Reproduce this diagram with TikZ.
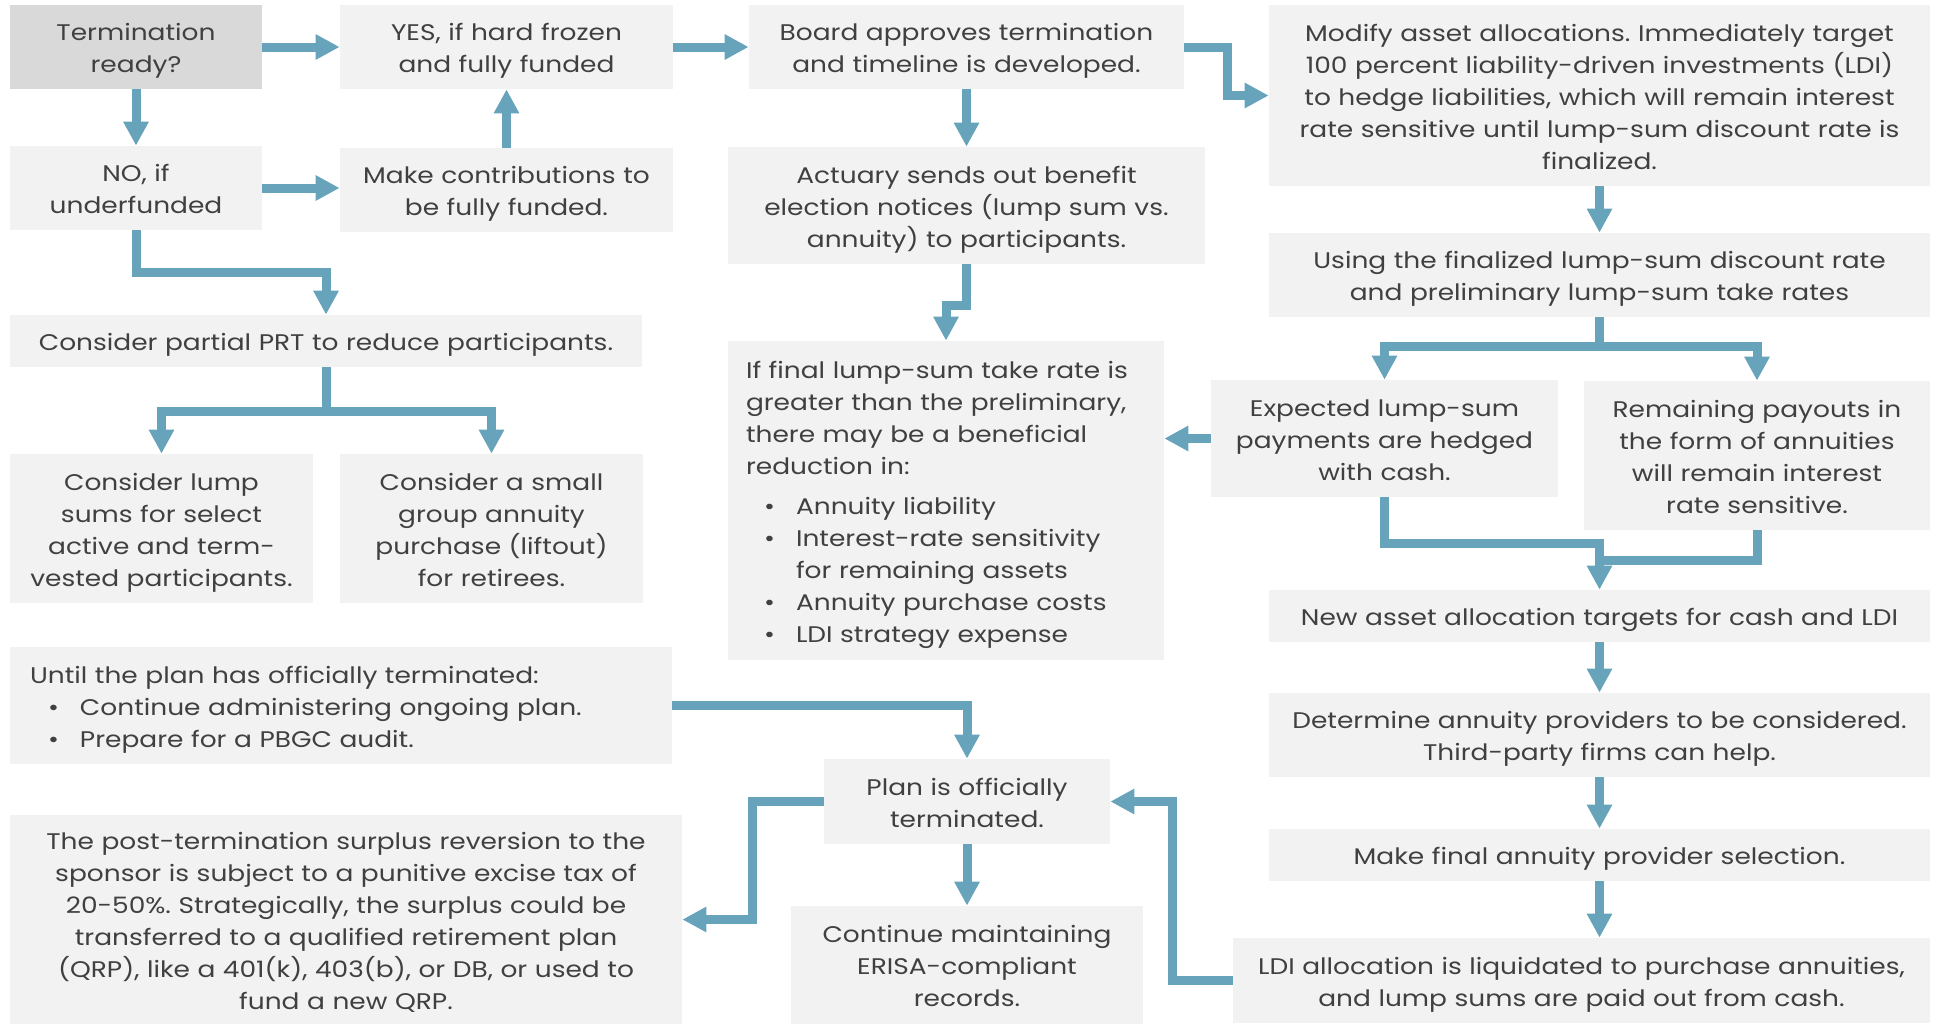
\documentclass[tikz,border=0pt]{standalone}
\usepackage{fontspec}
\setmainfont{Poppins}[FakeStretch=1.17]
\usetikzlibrary{arrows.meta}
\frenchspacing

\definecolor{boxgray}{HTML}{F2F2F2}
\definecolor{headgray}{HTML}{D9D9D9}
\definecolor{txtgray}{HTML}{404040}
\definecolor{flowblue}{HTML}{67A3BB}

\newcommand{\bul}{\hspace*{9pt}\makebox[16pt][l]{\textbullet}}
\newcommand{\bulcont}{\hspace*{25pt}}

\begin{document}
\begin{tikzpicture}[x=0.5pt, y=-0.5pt,
    box/.style={fill=boxgray, text=txtgray, inner sep=0pt, align=center,
      font=\fontsize{11.3}{16}\selectfont,
      execute at begin node={\rule{0pt}{13.6pt}},
      execute at end node={\rule[-4pt]{0pt}{4pt}}},
    sz/.style 2 args={minimum width=#1, text width=#1, minimum height=#2},
    lbox/.style={box, align=left},
    flow/.style={draw=flowblue, line width=4.5pt, -{Triangle[width=12pt,length=12pt]}}]
        \useasboundingbox (0,0) rectangle (1937,1024);

        % left part
        \node[box, fill=headgray, sz={126pt}{42pt}] (Term) at (136,47) {Termination\\ready?};
        \node[box, sz={166.5pt}{42pt}] (Yes) at (506.5,47) {YES, if hard frozen\\and fully funded};
        \node[box, sz={126pt}{42pt}] (No) at (136,188) {NO, if\\underfunded};
        \node[box, sz={166.5pt}{42pt}] (Contrib) at (506.5,190) {Make contributions to\\be fully funded.};
        \node[box, sz={316pt}{26pt}] (PRT) at (326,341) {Consider partial PRT to reduce participants.};
        \node[box, sz={151.5pt}{74.5pt}] (Lump) at (161.5,528.5) {Consider lump\\sums for select\\active and term-\\vested participants.};
        \node[box, sz={151.5pt}{74.5pt}] (Liftout) at (491.5,528.5) {Consider a small\\group annuity\\purchase (liftout)\\for retirees.};
        \node[lbox, inner xsep=10pt, text width=311pt, minimum height=58.5pt] (Until) at (341,705.5) {Until the plan has officially terminated:\\
            \bul Continue administering ongoing plan.\\
            \bul Prepare for a PBGC audit.};
        \node[box, sz={336pt}{104.5pt}] (Surplus) at (346,919.5) {The post-termination surplus reversion to the\\sponsor is subject to a punitive excise tax of\\20-50\%. Strategically, the surplus could be\\transferred to a qualified retirement plan\\(QRP), like a 401(k), 403(b), or DB, or used to\\fund a new QRP.};

        % middle part
        \node[box, sz={217.5pt}{42pt}] (Board) at (966.5,47) {Board approves termination\\and timeline is developed.};
        \node[box, sz={238.5pt}{58.5pt}] (Actuary) at (966.5,205.5) {Actuary sends out benefit\\election notices (lump sum vs.\\annuity) to participants.};
        \node[lbox, inner xsep=9pt, text width=200pt, minimum height=159.5pt] (TakeRate) at (946,500.5) {If final lump-sum take rate is\\greater than the preliminary,\\there may be a beneficial\\reduction in:\\[4pt]
            \bul Annuity liability\\
            \bul Interest-rate sensitivity\\
            \bulcont for remaining assets\\
            \bul Annuity purchase costs\\
            \bul LDI strategy expense};
        \node[box, sz={143pt}{42.5pt}] (Plan) at (967,801.5) {Plan is officially\\terminated.};
        \node[box, sz={176pt}{59pt}] (Records) at (967,965) {Continue maintaining\\ERISA-compliant\\records.};

        % right part
        \node[box, sz={330.5pt}{90.5pt}] (Modify) at (1599.5,95.5) {Modify asset allocations. Immediately target\\100 percent liability-driven investments (LDI)\\to hedge liabilities, which will remain interest\\rate sensitive until lump-sum discount rate is\\finalized.};
        \node[box, sz={330.5pt}{42pt}] (Using) at (1599.5,275) {Using the finalized lump-sum discount rate\\and preliminary lump-sum take rates};
        \node[box, sz={173.5pt}{58.5pt}] (Hedged) at (1384.5,438.5) {Expected lump-sum\\payments are hedged\\with cash.};
        \node[box, sz={173pt}{74.5pt}] (Payouts) at (1757,455.5) {Remaining payouts in\\the form of annuities\\will remain interest\\rate sensitive.};
        \node[box, sz={330.5pt}{26pt}] (Targets) at (1599.5,616) {New asset allocation targets for cash and LDI};
        \node[box, sz={330.5pt}{42pt}] (Providers) at (1599.5,735) {Determine annuity providers to be considered.\\Third-party firms can help.};
        \node[box, sz={330.5pt}{26pt}] (Selection) at (1599.5,855) {Make final annuity provider selection.};
        \node[box, sz={348.5pt}{42.5pt}] (Liquidate) at (1581.5,980.5) {LDI allocation is liquidated to purchase annuities,\\and lump sums are paid out from cash.};

        \coordinate (prtsplit) at (326,411);
        \coordinate (usesplit) at (1599.5,346);
        \coordinate (mergeA) at (1599.5,543);
        \coordinate (mergeB) at (1599.5,560);

        \draw[flow] (Term) -- (Yes);
        \draw[flow] (Term) -- (No);
        \draw[flow] (No.east) -- (No.east -| Contrib.west);
        \draw[flow] (Contrib) -- (Yes);
        \draw[flow] (Yes) -- (Board);
        \draw[flow] (No.south) -- ++(0,42) -| (PRT.north);
        \draw[flow] (PRT.south) -- (prtsplit) -| (Lump.north);
        \draw[flow] (prtsplit) -| (Liftout.north);
        \draw[flow] (Board.east) -- ++(43,0) |- (Modify.west);
        \draw[flow] (Board) -- (Actuary);
        \draw[flow] (Actuary.south) -- ++(0,41) -| (TakeRate.north);
        \draw[flow] (Modify) -- (Using);
        \draw[flow] (Using.south) -- (usesplit) -| (Hedged.north);
        \draw[flow] (usesplit) -| (Payouts.north);
        \draw[flow] (Hedged.west) -- (Hedged.west -| TakeRate.east);
        \draw[flow] (Hedged.south) |- (mergeA) -- (Targets.north);
        \draw[draw=flowblue, line width=4.5pt] (Payouts.south) |- (mergeB);
        \draw[flow] (Targets) -- (Providers);
        \draw[flow] (Providers) -- (Selection);
        \draw[flow] (Selection) -- (Liquidate.north -| Selection.south);
        \draw[flow] (Until.east) -| (Plan.north);
        \draw[flow] (Plan) -- (Records);
        \draw[flow] (Plan.west) -- ++(-71,0) |- (Surplus.east);
        \draw[flow] (Liquidate.west) -- ++(-60,0) |- (Plan.east);
    \end{tikzpicture}
\end{document}
